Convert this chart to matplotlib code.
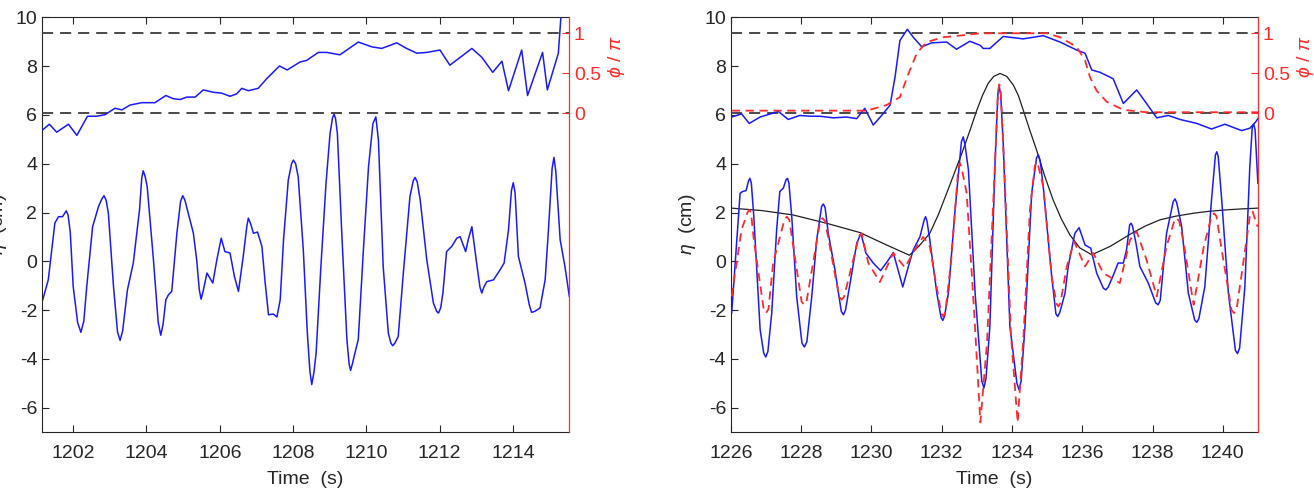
import matplotlib
matplotlib.use("Agg")
import matplotlib.pyplot as plt

plt.rcParams['font.family'] = ['Liberation Sans', 'DejaVu Sans']
plt.rcParams['mathtext.fontset'] = 'custom'
plt.rcParams['mathtext.rm'] = 'Liberation Sans'
plt.rcParams['mathtext.it'] = 'Liberation Sans:italic'
plt.rcParams['lines.scale_dashes'] = False
plt.rcParams['axes.unicode_minus'] = False

# ---- left panel: measured surface elevation (cm)
t_left = [1201.17, 1201.32, 1201.50, 1201.60, 1201.71, 1201.81, 1201.86, 1201.92, 1202.00, 1202.12,
          1202.21, 1202.29, 1202.37, 1202.53, 1202.69, 1202.78, 1202.84, 1202.90, 1202.96, 1203.10,
          1203.21, 1203.28, 1203.35, 1203.48, 1203.64, 1203.81, 1203.87, 1203.91, 1203.96, 1204.02,
          1204.19, 1204.32, 1204.39, 1204.45, 1204.53, 1204.60, 1204.69, 1204.83, 1204.93, 1204.99,
          1205.05, 1205.14, 1205.28, 1205.37, 1205.44, 1205.49, 1205.55, 1205.65, 1205.81, 1205.92,
          1206.04, 1206.14, 1206.28, 1206.40, 1206.51, 1206.64, 1206.74, 1206.78, 1206.84, 1206.92,
          1207.03, 1207.15, 1207.24, 1207.33, 1207.46, 1207.56, 1207.65, 1207.74, 1207.87, 1207.96,
          1208.01, 1208.07, 1208.14, 1208.28, 1208.39, 1208.46, 1208.51, 1208.57, 1208.63, 1208.76,
          1208.90, 1209.01, 1209.08, 1209.12, 1209.16, 1209.21, 1209.33, 1209.47, 1209.53, 1209.57,
          1209.62, 1209.69, 1209.78, 1209.92, 1210.06, 1210.18, 1210.26, 1210.33, 1210.46, 1210.60,
          1210.67, 1210.72, 1210.78, 1210.87, 1211.01, 1211.19, 1211.28, 1211.33, 1211.39, 1211.47,
          1211.65, 1211.83, 1211.92, 1211.97, 1212.03, 1212.09, 1212.19, 1212.33, 1212.47, 1212.56,
          1212.71, 1212.78, 1212.88, 1213.01, 1213.10, 1213.15, 1213.21, 1213.29, 1213.47, 1213.65,
          1213.76, 1213.88, 1213.96, 1214.01, 1214.06, 1214.15, 1214.33, 1214.45, 1214.51, 1214.60,
          1214.74, 1214.88, 1214.97, 1215.07, 1215.12, 1215.17, 1215.29, 1215.42, 1215.54]
eta_left = [-1.57, -0.76, 1.57, 1.83, 1.83, 2.07, 1.90, 1.20, -1.03, -2.50,
            -2.91, -2.45, -1.03, 1.42, 2.24, 2.55, 2.69, 2.50, 1.97, -1.03,
            -2.90, -3.24, -2.85, -1.17, -0.07, 2.11, 3.40, 3.71, 3.50, 3.06,
            0.06, -2.50, -3.03, -2.60, -1.57, -1.37, -1.23, 1.15, 2.45, 2.69,
            2.50, 1.97, 1.15, 0.06, -1.15, -1.55, -1.20, -0.48, -0.89, 0.06,
            0.95, 0.40, 0.34, -0.62, -1.23, 0.20, 1.45, 1.77, 1.55, 1.15,
            1.20, 0.61, -0.89, -2.19, -2.16, -2.28, -1.57, 0.88, 3.33, 4.00,
            4.15, 4.00, 3.47, 0.47, -2.94, -4.50, -5.05, -4.55, -3.75, -0.21,
            3.20, 5.24, 5.90, 6.03, 5.85, 5.24, 1.15, -3.21, -4.20, -4.47,
            -4.20, -3.75, -3.21, 0.47, 3.88, 5.65, 5.92, 4.97, -0.21, -2.94,
            -3.35, -3.46, -3.35, -3.08, -0.48, 2.65, 3.30, 3.44, 3.25, 2.52,
            0.06, -1.71, -2.05, -2.12, -1.90, -1.30, 0.40, 0.61, 0.95, 1.01,
            0.40, 0.88, 1.42, -0.07, -1.05, -1.30, -1.05, -0.83, -0.76, -0.35,
            -0.07, 1.29, 2.90, 3.22, 2.80, 0.20, -0.89, -1.80, -2.09, -2.05,
            -1.91, -0.76, 1.29, 3.80, 4.26, 3.70, 0.88, -0.21, -1.44]

# left panel: measured phase (phi / pi)
tp_left = [1201.17, 1201.35, 1201.55, 1201.87, 1202.10, 1202.39, 1202.64, 1202.87, 1203.14, 1203.33,
           1203.55, 1203.87, 1204.23, 1204.53, 1204.73, 1204.92, 1205.10, 1205.33, 1205.55, 1205.83,
           1206.05, 1206.28, 1206.46, 1206.60, 1206.78, 1207.05, 1207.28, 1207.63, 1207.84, 1208.19,
           1208.37, 1208.69, 1208.92, 1209.28, 1209.78, 1210.15, 1210.42, 1210.83, 1211.10, 1211.38,
           1211.65, 1212.01, 1212.28, 1212.51, 1212.88, 1213.15, 1213.45, 1213.70, 1213.88, 1214.24,
           1214.40, 1214.81, 1214.94, 1215.24, 1215.31, 1215.36]
phi_left = [-0.21, -0.14, -0.24, -0.14, -0.28, -0.04, -0.04, -0.02, 0.06, 0.04,
            0.10, 0.13, 0.13, 0.22, 0.18, 0.17, 0.20, 0.20, 0.29, 0.26,
            0.25, 0.21, 0.24, 0.31, 0.28, 0.31, 0.43, 0.59, 0.54, 0.64,
            0.66, 0.76, 0.76, 0.73, 0.89, 0.83, 0.81, 0.88, 0.81, 0.75,
            0.76, 0.79, 0.60, 0.68, 0.81, 0.70, 0.51, 0.65, 0.28, 0.79,
            0.22, 0.76, 0.29, 0.75, 1.20, 1.35]

# ---- right panel: measured elevation
t_right = [1226.02, 1226.26, 1226.33, 1226.43, 1226.50, 1226.54, 1226.58, 1226.65, 1226.83, 1226.93,
           1226.99, 1227.05, 1227.16, 1227.30, 1227.39, 1227.49, 1227.57, 1227.61, 1227.65, 1227.73,
           1227.87, 1228.02, 1228.09, 1228.16, 1228.30, 1228.44, 1228.58, 1228.63, 1228.68, 1228.77,
           1228.96, 1229.14, 1229.20, 1229.26, 1229.44, 1229.58, 1229.70, 1229.84, 1230.05, 1230.26,
           1230.45, 1230.62, 1230.89, 1231.05, 1231.19, 1231.38, 1231.50, 1231.54, 1231.58, 1231.66,
           1231.86, 1231.98, 1232.03, 1232.08, 1232.19, 1232.38, 1232.56, 1232.61, 1232.66, 1232.76,
           1232.95, 1233.14, 1233.20, 1233.26, 1233.37, 1233.52, 1233.60, 1233.64, 1233.68, 1233.75,
           1233.94, 1234.14, 1234.20, 1234.26, 1234.37, 1234.56, 1234.70, 1234.75, 1234.80, 1234.89,
           1235.13, 1235.25, 1235.30, 1235.36, 1235.51, 1235.60, 1235.79, 1235.91, 1236.08, 1236.24,
           1236.41, 1236.60, 1236.67, 1236.74, 1236.87, 1237.02, 1237.17, 1237.26, 1237.35, 1237.39,
           1237.43, 1237.53, 1237.64, 1237.88, 1238.09, 1238.16, 1238.22, 1238.40, 1238.59, 1238.64,
           1238.69, 1238.83, 1239.02, 1239.20, 1239.26, 1239.32, 1239.49, 1239.68, 1239.79, 1239.83,
           1239.87, 1239.97, 1240.16, 1240.36, 1240.42, 1240.48, 1240.63, 1240.77, 1240.84, 1240.88,
           1240.92, 1241.00]
eta_right = [-2.12, 2.79, 2.86, 2.90, 3.30, 3.40, 3.20, 1.83, -2.80, -3.75,
             -3.92, -3.70, -2.12, 1.29, 2.86, 3.00, 3.35, 3.40, 3.20, 1.83,
             -1.44, -3.35, -3.51, -3.30, -1.44, 0.88, 2.25, 2.35, 2.20, 1.15,
             -0.35, -2.05, -2.19, -2.00, -0.48, 0.74, 1.15, 0.34, -0.07, -0.38,
             -0.01, 0.36, -1.05, -0.21, 0.47, 1.01, 1.70, 1.83, 1.65, 0.88,
             -1.30, -2.30, -2.42, -2.25, -1.30, 2.11, 4.90, 5.10, 4.80, 3.74,
             -1.30, -4.90, -5.19, -4.80, -2.67, 4.15, 6.90, 7.15, 6.80, 4.83,
             -2.67, -5.00, -5.26, -4.90, -2.67, 2.79, 4.25, 4.36, 4.15, 3.06,
             -0.62, -2.15, -2.26, -2.10, -1.30, -0.21, 1.15, 1.38, 0.67, 0.54,
             -0.48, -1.10, -1.17, -1.05, -0.62, -0.07, -0.07, 0.47, 1.50, 1.56,
             1.45, 0.74, -0.21, -0.89, -1.70, -1.78, -1.60, 1.15, 2.45, 2.56,
             2.40, 1.42, -1.30, -2.40, -2.50, -2.35, -1.03, 2.52, 4.35, 4.49,
             4.30, 2.52, -1.30, -3.65, -3.78, -3.55, -1.03, 3.88, 5.50, 5.62,
             5.40, 3.20]

# right panel: model elevation (red dashed)
t_model = [1226.02, 1226.30, 1226.47, 1226.52, 1226.57, 1226.65, 1226.93, 1227.00, 1227.07, 1227.20,
           1227.52, 1227.59, 1227.66, 1228.01, 1228.08, 1228.15, 1228.54, 1228.61, 1228.68, 1229.08,
           1229.15, 1229.22, 1229.65, 1229.72, 1229.91, 1230.24, 1230.62, 1230.95, 1231.29, 1231.47,
           1231.66, 1231.98, 1232.04, 1232.10, 1232.27, 1232.47, 1232.52, 1232.57, 1232.71, 1232.92,
           1233.10, 1233.29, 1233.52, 1233.60, 1233.64, 1233.68, 1233.77, 1233.97, 1234.16, 1234.33,
           1234.51, 1234.65, 1234.70, 1234.75, 1234.89, 1235.13, 1235.27, 1235.32, 1235.38, 1235.56,
           1235.77, 1236.08, 1236.31, 1236.60, 1237.07, 1237.36, 1237.55, 1237.83, 1238.12, 1238.40,
           1238.62, 1238.69, 1238.76, 1238.89, 1239.17, 1239.46, 1239.68, 1239.75, 1239.82, 1239.94,
           1240.25, 1240.32, 1240.39, 1240.61, 1240.78, 1240.85, 1240.99]
eta_model = [-1.44, 1.29, 2.00, 2.11, 2.00, 0.88, -1.95, -2.12, -1.95, -0.07,
             1.70, 1.83, 1.70, -1.65, -1.78, -1.65, 1.65, 1.77, 1.65, -1.45,
             -1.57, -1.45, 1.05, 1.15, -0.07, -0.85, 0.34, -0.25, 0.61, 1.00,
             0.61, -2.10, -2.26, -2.10, 0.06, 3.80, 4.02, 3.80, 2.79, -2.00,
             -6.60, -3.30, 4.15, 6.95, 7.25, 6.95, 4.15, -3.00, -6.60, -3.00,
             2.11, 3.90, 4.08, 3.90, 3.06, -0.62, -1.75, -1.85, -1.70, -0.21,
             0.81, -0.21, 0.34, -0.48, -0.89, 0.88, 1.22, 0.06, -1.44, 0.61,
             1.65, 1.77, 1.65, 0.74, -1.78, 0.61, 1.85, 1.97, 1.85, 0.74,
             -2.00, -2.12, -2.00, 0.20, 1.95, 2.04, 1.42]

# right panel: envelope (black)
t_env = [1226.02, 1226.88, 1227.77, 1228.72, 1229.67, 1230.43, 1231.08, 1231.35, 1231.66, 1231.90,
         1232.14, 1232.35, 1232.57, 1232.80, 1233.00, 1233.16, 1233.32, 1233.48, 1233.66, 1233.85,
         1234.04, 1234.18, 1234.32, 1234.50, 1234.70, 1234.93, 1235.17, 1235.40, 1235.65, 1235.93,
         1236.27, 1236.50, 1236.79, 1237.10, 1237.41, 1237.80, 1238.21, 1238.66, 1239.16, 1239.60,
         1240.11, 1240.55, 1241.00]
eta_env = [2.18, 2.08, 1.90, 1.56, 1.18, 0.67, 0.25, 0.62, 1.15, 1.90,
           2.79, 3.58, 4.42, 5.35, 6.20, 6.80, 7.29, 7.58, 7.70, 7.58,
           7.22, 6.80, 6.20, 5.40, 4.56, 3.50, 2.52, 1.75, 1.08, 0.55,
           0.27, 0.42, 0.61, 0.88, 1.15, 1.45, 1.70, 1.85, 1.97, 2.05,
           2.11, 2.15, 2.18]

# right panel: measured phase (blue) and model phase (red dashed)
tp_right = [1226.02, 1226.30, 1226.52, 1226.83, 1227.35, 1227.63, 1227.96, 1228.25, 1228.53, 1228.91,
            1229.29, 1229.58, 1229.81, 1230.05, 1230.29, 1230.53, 1230.67, 1230.81, 1231.02, 1231.19,
            1231.43, 1231.71, 1232.14, 1232.42, 1232.80, 1233.09, 1233.18, 1233.37, 1233.75, 1234.32,
            1234.89, 1235.37, 1235.84, 1236.08, 1236.27, 1236.51, 1236.88, 1237.17, 1237.55, 1237.83,
            1238.12, 1238.45, 1238.78, 1239.26, 1239.68, 1240.06, 1240.54, 1240.77, 1240.94, 1241.00]
phi_right = [-0.05, -0.01, -0.13, -0.05, 0.02, -0.08, -0.03, -0.04, -0.04, -0.06,
             -0.05, -0.07, 0.06, -0.15, -0.03, 0.10, 0.45, 0.91, 1.05, 0.95,
             0.83, 0.88, 0.89, 0.80, 0.90, 0.85, 0.81, 0.81, 0.96, 0.93,
             0.97, 0.89, 0.79, 0.75, 0.54, 0.51, 0.43, 0.12, 0.29, 0.12,
             -0.06, -0.03, -0.08, -0.13, -0.20, -0.14, -0.22, -0.19, -0.11, -0.07]
tp_model = [1226.02, 1229.86, 1230.43, 1230.81, 1231.05, 1231.29, 1231.57, 1232.04, 1232.71, 1233.09,
            1234.99, 1235.37, 1235.84, 1236.08, 1236.22, 1236.41, 1236.70, 1237.17, 1237.83, 1241.00]
phi_model = [0.03, 0.03, 0.10, 0.20, 0.49, 0.75, 0.89, 0.95, 0.98, 1.00,
             1.00, 0.95, 0.83, 0.66, 0.45, 0.28, 0.14, 0.04, 0.01, 0.01]

left_ticks = [1202, 1204, 1206, 1208, 1210, 1212, 1214]
right_ticks = [1226, 1228, 1230, 1232, 1234, 1236, 1238, 1240]

BLUE = '#1a1aff'
RED = '#ff2a2a'
TXT = '#262626'
FS = 14

fig = plt.figure(figsize=(13.14, 4.95), dpi=100)


def make_panel(rect, xlim, xticks):
    ax = fig.add_axes(rect)
    ax.set_xlim(*xlim)
    ax.set_ylim(-7, 10)
    ax.set_xticks(xticks)
    ax.set_yticks([-6, -4, -2, 0, 2, 4, 6, 8, 10])
    ax.tick_params(axis='x', direction='in', top=True, length=5, width=0.8,
                   pad=9.5, labelsize=FS, colors=TXT)
    ax.tick_params(axis='y', direction='in', right=False, length=5, width=0.8,
                   pad=3.5, labelsize=FS, colors=TXT)
    for s in ['left', 'bottom', 'top']:
        ax.spines[s].set_color(TXT)
        ax.spines[s].set_linewidth(0.8)
    ax.spines['right'].set_visible(False)
    ax.set_xlabel('Time  (s)', fontsize=FS, color=TXT, labelpad=6)
    ax.set_ylabel(r'$\eta$  (cm)', fontsize=FS, color=TXT)
    ax.yaxis.set_label_coords(-0.062, 0.5)

    ax2 = ax.twinx()
    ax2.set_ylim(-4, 1.2)
    ax2.set_yticks([0, 0.5, 1])
    ax2.set_yticklabels(['0', '0.5', '1'])
    ax2.tick_params(axis='y', direction='in', length=5, width=0.8, pad=3.5,
                    labelsize=FS, colors=RED)
    for s in ['left', 'bottom', 'top']:
        ax2.spines[s].set_visible(False)
    ax2.spines['right'].set_color(RED)
    ax2.spines['right'].set_linewidth(0.9)
    ax2.set_ylabel(r'$\phi$ / $\pi$', fontsize=FS, color=RED)
    ax2.yaxis.set_label_coords(1.07, 0.905)
    for lvl in [0, 1]:
        ax2.axhline(lvl, color='#3c3c3c', lw=1.3, dashes=(8, 5), zorder=1)
    return ax, ax2


ax, ax2 = make_panel([0.032, 0.127, 0.401, 0.838], (1201.15, 1215.53), left_ticks)
ax.plot(t_left, eta_left, color=BLUE, lw=1.1)
ax2.plot(tp_left, phi_left, color=BLUE, lw=1.1)

bx, bx2 = make_panel([0.5563, 0.127, 0.401, 0.838], (1226, 1241), right_ticks)
bx.plot(t_env, eta_env, color='#202020', lw=0.9, zorder=2)
bx.plot(t_right, eta_right, color=BLUE, lw=1.1, zorder=3)
bx.plot(t_model, eta_model, color=RED, lw=1.3, dashes=(6, 4), zorder=4)
bx2.plot(tp_right, phi_right, color=BLUE, lw=1.1, zorder=3)
bx2.plot(tp_model, phi_model, color=RED, lw=1.3, dashes=(6, 4), zorder=4)

fig.savefig('out.png', dpi=100)
